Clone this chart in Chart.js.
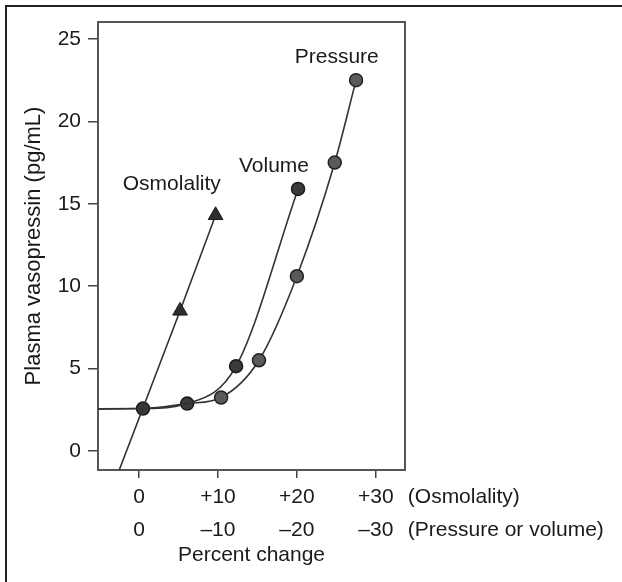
<!DOCTYPE html>
<html>
<head>
<meta charset="utf-8">
<script src="https://cdn.jsdelivr.net/npm/chart.js@4.4.1/dist/chart.umd.min.js"></script>
<style>
  html, body { margin: 0; padding: 0; background: #fff; }
  #frame { position: absolute; left: 5px; top: 5px; width: 617px; height: 577px;
           border-left: 2px solid #222; border-top: 2px solid #222; }
  #myChart { position: absolute; left: 0; top: 0; }
</style>
</head>
<body>
<div id="frame"></div>
<canvas id="myChart" width="622" height="582"></canvas>
<script>
// values
var osmX = [-3.5, 0.5, 5.2, 9.7];
var osmY = [-2.4, 2.6, 8.5, 14.3];
var volumeX = [-6, 0.5, 6.1, 12.3, 20.15];
var volumeY = [2.55, 2.57, 2.87, 5.14, 15.9];
var pressureX = [-6, 0.5, 6.1, 10.4, 15.2, 20.0, 24.8, 27.5];
var pressureY = [2.55, 2.57, 2.87, 3.24, 5.5, 10.6, 17.5, 22.5];

var xTickValues = [0, 10, 20, 30];
var osmTickLabels = ['0', '+10', '+20', '+30'];
var pvTickLabels = ['0', '\u201310', '\u201320', '\u201330'];
var axisNotes = ['(Osmolality)', '(Pressure or volume)'];
var yTickValues = [0, 5, 10, 15, 20, 25];

var curveLabels = ['Osmolality', 'Volume', 'Pressure'];
var curveLabelX = [4.15, 17.1, 25.05];
var curveLabelY = [16.2, 17.25, 23.9];

var FONT = '"Liberation Sans", Arial, Helvetica, sans-serif';
var INK = '#1a1a1a';

function pts(xs, ys) {
  var out = [];
  for (var i = 0; i < xs.length; i++) out.push({x: xs[i], y: ys[i]});
  return out;
}

var frameAndText = {
  id: 'frameAndText',
  beforeDatasetsDraw: function (chart) {
    var a = chart.chartArea, ctx = chart.ctx;
    ctx.save();
    ctx.strokeStyle = '#555';
    ctx.lineWidth = 2;
    ctx.strokeRect(a.left, a.top, a.right - a.left, a.bottom - a.top);
    ctx.restore();
  },
  afterDatasetsDraw: function (chart) {
    var ctx = chart.ctx, xs = chart.scales.x, ys = chart.scales.y;
    ctx.save();
    ctx.fillStyle = INK;
    ctx.font = '21px ' + FONT;
    ctx.textAlign = 'center';
    ctx.textBaseline = 'middle';
    for (var i = 0; i < curveLabels.length; i++) {
      ctx.fillText(curveLabels[i], xs.getPixelForValue(curveLabelX[i]), ys.getPixelForValue(curveLabelY[i]));
    }
    // notes to the right of the last x tick
    ctx.textAlign = 'left';
    var x0 = xs.getPixelForValue(xTickValues[xTickValues.length - 1]) + 32;
    var y0 = chart.chartArea.bottom + 8 + 3 + 16.5;
    for (var j = 0; j < axisNotes.length; j++) {
      ctx.fillText(axisNotes[j], x0, y0 + j * 33);
    }
    ctx.restore();
  }
};

var ctx = document.getElementById('myChart').getContext('2d');
var myChart = new Chart(ctx, {
  type: 'line',
  data: {
    datasets: [{
      label: 'Osmolality',
      data: pts(osmX, osmY),
      borderColor: '#333',
      borderWidth: 1.6,
      tension: 0,
      pointStyle: 'triangle',
      pointRadius: function (c) { return c.dataIndex >= 2 ? 8.5 : 0; },
      pointBackgroundColor: '#2e2e2e',
      pointBorderColor: '#1a1a1a',
      pointBorderWidth: 1
    }, {
      label: 'Pressure',
      data: pts(pressureX, pressureY),
      borderColor: '#333',
      borderWidth: 1.6,
      cubicInterpolationMode: 'monotone',
      pointRadius: function (c) { return c.dataIndex >= 3 ? 6.5 : 0; },
      pointBackgroundColor: '#5a5a5a',
      pointBorderColor: '#222',
      pointBorderWidth: 1.5
    }, {
      label: 'Volume',
      data: pts(volumeX, volumeY),
      borderColor: '#333',
      borderWidth: 1.6,
      cubicInterpolationMode: 'monotone',
      pointRadius: function (c) { return c.dataIndex >= 1 ? 6.5 : 0; },
      pointBackgroundColor: '#3a3a3a',
      pointBorderColor: '#1a1a1a',
      pointBorderWidth: 1.5
    }]
  },
  options: {
    responsive: false,
    animation: false,
    layout: { padding: { left: 17, top: 22, right: 217, bottom: 5 } },
    plugins: { legend: { display: false }, tooltip: { enabled: false } },
    scales: {
      x: {
        type: 'linear',
        min: -5.2,
        max: 33.7,
        afterFit: function (s) { s.height = 107; },
        afterBuildTicks: function (s) { s.ticks = xTickValues.map(function (v) { return {value: v}; }); },
        grid: { drawOnChartArea: false, drawTicks: true, tickLength: 8, color: '#444', lineWidth: 1.5 },
        border: { display: false },
        ticks: {
          autoSkip: false,
          maxRotation: 0,
          padding: 3,
          color: INK,
          font: { family: FONT, size: 21, lineHeight: '33px' },
          callback: function (v, i) { return [osmTickLabels[i], pvTickLabels[i]]; }
        },
        title: {
          display: true,
          text: 'Percent change',
          color: INK,
          font: { family: FONT, size: 21 },
          padding: { top: 0, bottom: 9 }
        }
      },
      y: {
        type: 'linear',
        min: -1.16,
        max: 26.03,
        afterFit: function (s) { s.width = 81; },
        afterBuildTicks: function (s) { s.ticks = yTickValues.map(function (v) { return {value: v}; }); },
        grid: { drawOnChartArea: false, drawTicks: true, tickLength: 10, color: '#444', lineWidth: 1.5 },
        border: { display: false },
        ticks: {
          padding: 7,
          color: INK,
          font: { family: FONT, size: 21 }
        },
        title: {
          display: true,
          text: 'Plasma vasopressin (pg/mL)',
          color: INK,
          font: { family: FONT, size: 22 },
          padding: { top: 4, bottom: 4 }
        }
      }
    }
  },
  plugins: [frameAndText]
});
</script>
</body>
</html>
